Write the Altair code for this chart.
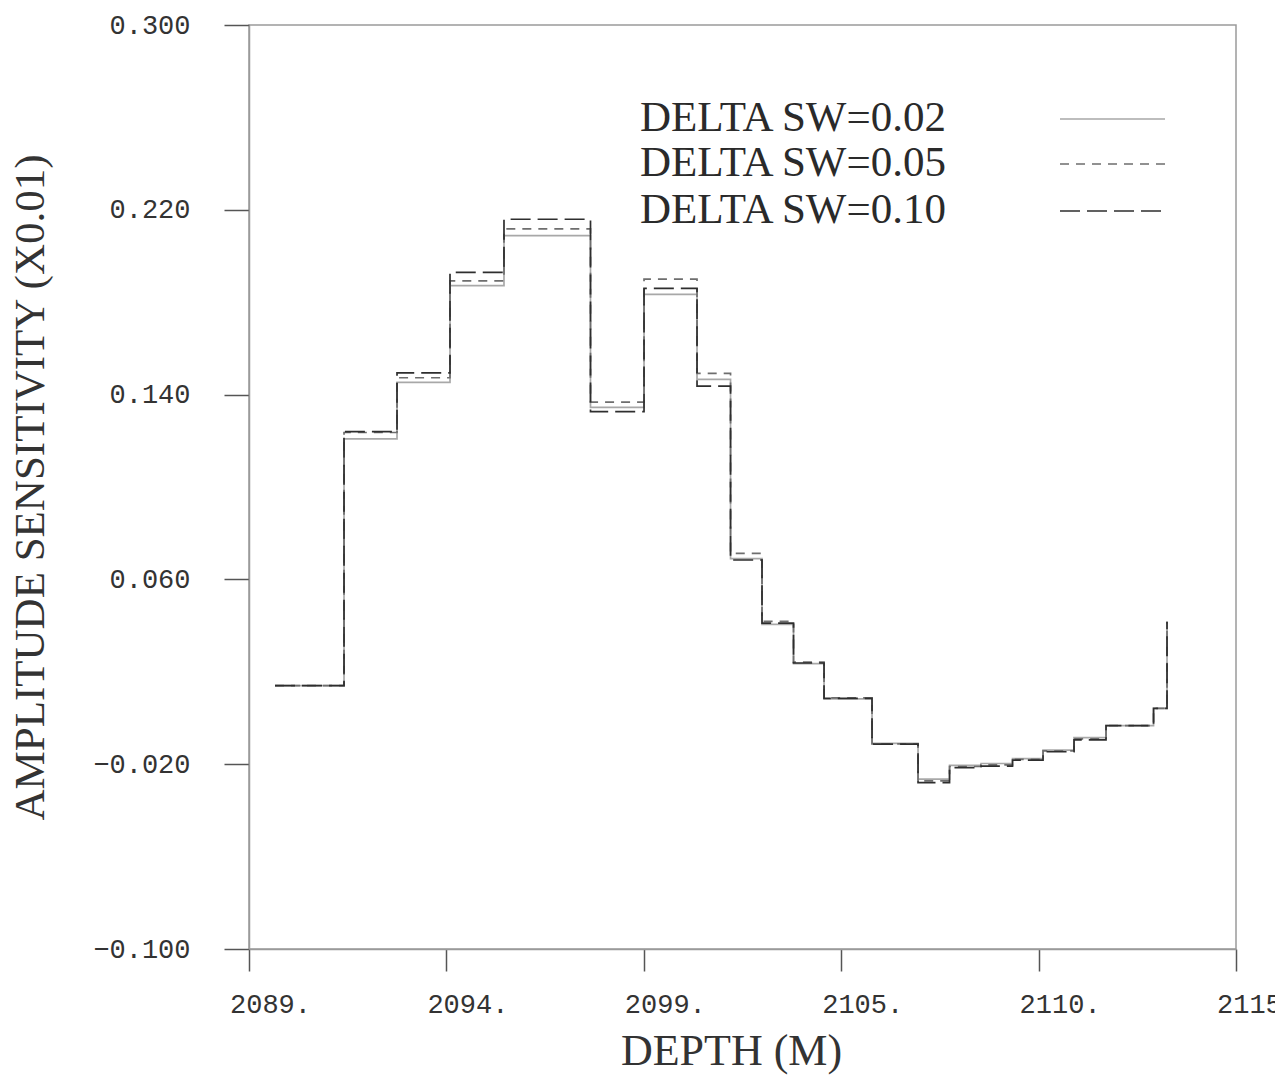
import altair as alt
import pandas as pd

# Step boundaries (depth, m) shared by the three curves; the last entry is the end of the last layer
DEPTH = [2089.685, 2091.503, 2092.899, 2094.295, 2095.717, 2097.996, 2099.406, 2100.802,
         2101.685, 2102.514, 2103.344, 2104.148, 2105.412, 2106.624, 2107.454, 2108.284,
         2109.113, 2109.917, 2110.733, 2111.576, 2112.828, 2113.183]

SW02 = [0.0140, 0.1208, 0.1453, 0.1872, 0.2088, 0.1345, 0.1834, 0.1466, 0.0690, 0.0405, 0.0235,
        0.0083, -0.0110, -0.0265, -0.0205, -0.0197, -0.0176, -0.0139, -0.0085, -0.0033, 0.0042, 0.0417]
SW05 = [0.0140, 0.1236, 0.1473, 0.1892, 0.2117, 0.1367, 0.1900, 0.1492, 0.0713, 0.0418, 0.0242,
        0.0087, -0.0112, -0.0272, -0.0210, -0.0203, -0.0179, -0.0142, -0.0090, -0.0033, 0.0042, 0.0417]
SW10 = [0.0140, 0.1240, 0.1494, 0.1929, 0.2159, 0.1326, 0.1860, 0.1437, 0.0684, 0.0411, 0.0238,
        0.0085, -0.0113, -0.0280, -0.0215, -0.0208, -0.0182, -0.0146, -0.0095, -0.0033, 0.0042, 0.0417]

LABELS = ["DELTA SW=0.02", "DELTA SW=0.05", "DELTA SW=0.10"]
X_TICKS = [2089.0, 2094.2, 2099.4, 2104.6, 2109.8, 2115.0]
Y_TICKS = [-0.100, -0.020, 0.060, 0.140, 0.220, 0.300]

SERIES = [SW02, SW05, SW10]
COLORS = ["#a8a8a8", "#6e6e6e", "#2e2e2e"]
DASHES = [[1, 0], [9, 7], [20, 7]]

W, H = 987, 924
LEFT, TOP = 249, 25

xscale = alt.Scale(domain=[2089, 2115], nice=False, zero=False)
yscale = alt.Scale(domain=[-0.1, 0.3], nice=False, zero=False)

xaxis = alt.Axis(values=X_TICKS, labelExpr="format(round(datum.value), 'd') + '.'",
                 title="DEPTH (M)", grid=False, tickSize=22, labelPadding=20,
                 labelOffset=21, labelFlush=False, titlePadding=12,
                 titleFontSize=44, titleX=482)
yaxis = alt.Axis(values=Y_TICKS, format=".3f", title="AMPLITUDE SENSITIVITY (X0.01)",
                 grid=False, tickSize=25, labelPadding=34, titlePadding=40,
                 titleFontSize=43)

layers = []
for i, (vals, label) in enumerate(zip(SERIES, LABELS)):
    df = pd.DataFrame({"depth": DEPTH, "value": vals, "series": label})
    layers.append(
        alt.Chart(df).mark_line(interpolate="step-after", color=COLORS[i],
                                strokeWidth=1.7, strokeDash=DASHES[i]).encode(
            x=alt.X("depth:Q", scale=xscale, axis=xaxis),
            y=alt.Y("value:Q", scale=yscale, axis=yaxis),
        )
    )

# Hand-built legend: labels on the left, line samples on the right
LEG_Y = [93, 138, 185]
for i, label in enumerate(LABELS):
    ldf = pd.DataFrame({"label": [label]})
    layers.append(
        alt.Chart(ldf).mark_text(align="left", baseline="middle", font="Liberation Serif",
                                 fontSize=43, color="#2a2a2a").encode(
            x=alt.value(391), y=alt.value(LEG_Y[i]), text="label:N")
    )
    layers.append(
        alt.Chart(ldf).mark_rule(color=COLORS[i], strokeWidth=1.7, strokeDash=DASHES[i]).encode(
            x=alt.value(811), x2=alt.value(916), y=alt.value(LEG_Y[i] + 1))
    )

chart = alt.layer(*layers).properties(
    width=W, height=H,
    autosize=alt.AutoSizeParams(type="none"),
    padding={"left": LEFT, "top": TOP, "right": 1275 - LEFT - W, "bottom": 1080 - TOP - H},
    background="white",
).configure_view(
    stroke="#9a9a9a", strokeWidth=1.5
).configure_axis(
    domainColor="#9a9a9a", domainWidth=1.5,
    tickColor="#555555", tickWidth=1.5,
    labelFont="Liberation Mono", labelFontSize=27, labelColor="#333333",
    titleFont="Liberation Serif", titleFontWeight="normal",
    titleColor="#333333",
)

chart.save("out.html", embed_options={"renderer": "svg", "actions": False})
